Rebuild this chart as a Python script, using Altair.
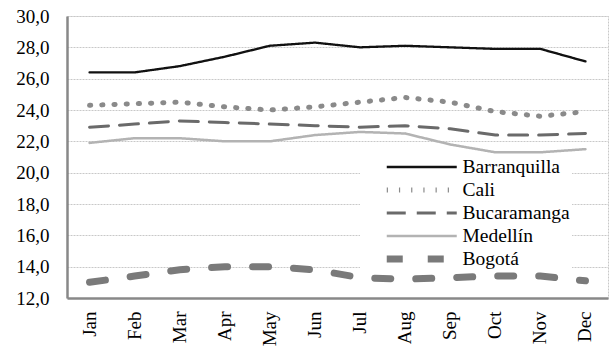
import altair as alt
import pandas as pd

months = ["Jan", "Feb", "Mar", "Apr", "May", "Jun", "Jul", "Aug", "Sep", "Oct", "Nov", "Dec"]
cities = ["Barranquilla", "Cali", "Bucaramanga", "Medellín", "Bogotá"]
barranquilla = [26.4, 26.4, 26.8, 27.4, 28.1, 28.3, 28.0, 28.1, 28.0, 27.9, 27.9, 27.1]
cali = [24.3, 24.4, 24.5, 24.2, 24.0, 24.2, 24.5, 24.8, 24.5, 23.9, 23.6, 23.9]
bucaramanga = [22.9, 23.1, 23.3, 23.2, 23.1, 23.0, 22.9, 23.0, 22.8, 22.4, 22.4, 22.5]
medellin = [21.9, 22.2, 22.2, 22.0, 22.0, 22.4, 22.6, 22.5, 21.8, 21.3, 21.3, 21.5]
bogota = [13.0, 13.4, 13.8, 14.0, 14.0, 13.8, 13.3, 13.2, 13.3, 13.4, 13.4, 13.1]

series = [barranquilla, cali, bucaramanga, medellin, bogota]
rows = []
for city, vals in zip(cities, series):
    for m, v in zip(months, vals):
        rows.append({"month": m, "city": city, "temp": v})
df = pd.DataFrame(rows)

colors = ["#111111", "#8a8a8a", "#6a6a6a", "#b3b3b3", "#7a7a7a"]
dashes = [[1, 0], [1.2, 11], [19, 11], [1, 0], [16, 25]]
widths = [2.3, 5, 3, 2.5, 7]

font = "Liberation Serif, Times New Roman, Liberation Sans, Arial"

chart = alt.Chart(df).mark_line(strokeCap="round").encode(
    x=alt.X("month:N", sort=months,
            scale=alt.Scale(type="band", paddingInner=0, paddingOuter=0),
            axis=alt.Axis(title=None, labelAngle=270, bandPosition=0, ticks=False,
                          labelPadding=13, labelFontSize=19, labelFont=font)),
    y=alt.Y("temp:Q", scale=alt.Scale(domain=[12, 30], nice=False, zero=False),
            axis=alt.Axis(title=None, values=list(range(12, 31, 2)), ticks=False,
                          labelPadding=18, labelFontSize=19, labelFont=font,
                          labelExpr="replace(format(datum.value, '.1f'), '.', ',')")),
    color=alt.Color("city:N", sort=cities,
                    scale=alt.Scale(domain=cities, range=colors),
                    legend=alt.Legend(title=None, orient="none", legendX=293, legendY=139,
                                      symbolType="M-7,0H7", symbolSize=100,
                                      labelFont=font, labelFontSize=19.5, labelColor="black",
                                      fillColor="white", padding=2, symbolOffset=50,
                                      clipHeight=20, rowPadding=3, labelOffset=31)),
    strokeDash=alt.StrokeDash("city:N", sort=cities,
                              scale=alt.Scale(domain=cities, range=dashes)),
    strokeWidth=alt.StrokeWidth("city:N", sort=cities,
                                scale=alt.Scale(type="ordinal", domain=cities, range=widths)),
    detail="city:N",
).properties(
    width=541, height=282,
    autosize=alt.AutoSizeParams(type="none"),
    padding={"left": 67, "top": 16, "right": 5, "bottom": 51},
).configure_axis(
    labelColor="black",
    domainColor="#888888", domainWidth=2.5,
    gridColor="#c8c8c8", gridDash=[2, 1], gridWidth=1,
).configure_view(
    stroke="#c8c8c8", strokeDash=[2, 1], strokeWidth=1,
)

chart.save("out.html", embed_options={"renderer": "svg", "actions": False})
